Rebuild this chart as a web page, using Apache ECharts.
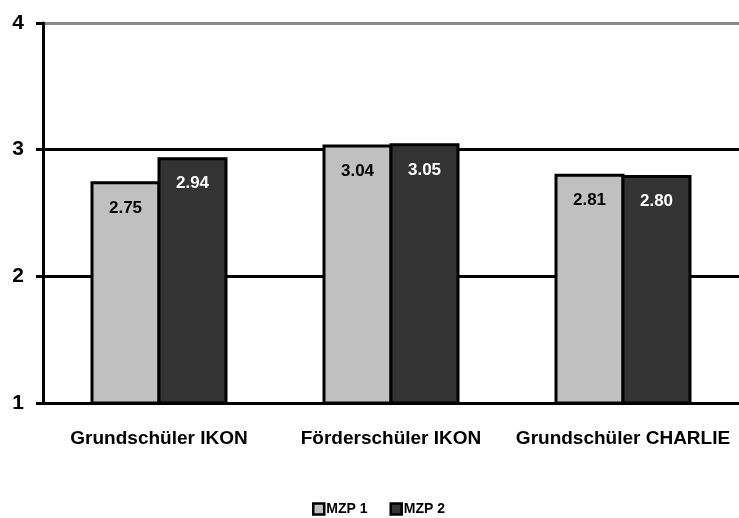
<!DOCTYPE html>
<html><head><meta charset="utf-8">
<script src="https://cdn.jsdelivr.net/npm/echarts@6/dist/echarts.min.js"></script>
<style>html,body{margin:0;padding:0;background:#fff}#c{width:739px;height:518px}</style>
</head><body><div id="c"></div>
<script>
const categories = ['Grundschüler IKON', 'Förderschüler IKON', 'Grundschüler CHARLIE'];
const seriesNames = ['MZP 1', 'MZP 2'];
const mzp1 = [2.75, 3.04, 2.81];
const mzp2 = [2.94, 3.05, 2.80];
const yTicks = [1, 2, 3, 4];

const FONT = '"Liberation Sans", Arial, sans-serif';
const chart = echarts.init(document.getElementById('c'));
chart.setOption({
  animation: false,
  backgroundColor: '#fff',
  textStyle: { fontFamily: FONT },
  grid: { left: 43, top: 23, width: 702, height: 380, containLabel: false },
  legend: {
    top: 497, left: 307,
    itemWidth: 11, itemHeight: 11, itemGap: 22,
    icon: 'rect',
    textStyle: { fontFamily: FONT, fontWeight: 'bold', fontSize: 14, color: '#000', padding: [0,0,0,-3] },
    data: seriesNames.map((n, i) => ({ name: n, itemStyle: { borderColor: '#000', borderWidth: 2.5 } }))
  },
  xAxis: {
    type: 'category', data: categories,
    axisLine: { lineStyle: { color: '#000', width: 3 } },
    axisTick: { show: false },
    axisLabel: { interval: 0, hideOverlap: false, fontFamily: FONT, fontWeight: 'bold', fontSize: 19, color: '#000', margin: 26 }
  },
  yAxis: {
    type: 'value', min: 1, max: 4, interval: 1,
    axisLine: { show: true, lineStyle: { color: '#000', width: 3 } },
    axisTick: { show: true, length: 7, lineStyle: { color: '#000', width: 3 } },
    axisLabel: { fontFamily: FONT, fontWeight: 'bold', fontSize: 21, color: '#000', margin: 19,
      formatter: v => yTicks.includes(v) ? String(v) : '' },
    splitLine: { show: true, lineStyle: { color: ['#000', '#000', '#000', '#888'], width: 3 } }
  },
  series: [
    { name: seriesNames[0], type: 'bar', data: mzp1, barGap: '-4.3%', barWidth: 70,
      itemStyle: { color: '#c0c0c0', borderColor: '#000', borderWidth: 3 },
      label: { show: true, position: 'insideTop', distance: 18, fontFamily: FONT, fontWeight: 'bold', fontSize: 17, color: '#000',
        formatter: p => p.value.toFixed(2) } },
    { name: seriesNames[1], type: 'bar', data: mzp2, barWidth: 70,
      itemStyle: { color: '#333333', borderColor: '#000', borderWidth: 3 },
      label: { show: true, position: 'insideTop', distance: 18, fontFamily: FONT, fontWeight: 'bold', fontSize: 17, color: '#fff',
        formatter: p => p.value.toFixed(2) } }
  ]
});
</script></body></html>
